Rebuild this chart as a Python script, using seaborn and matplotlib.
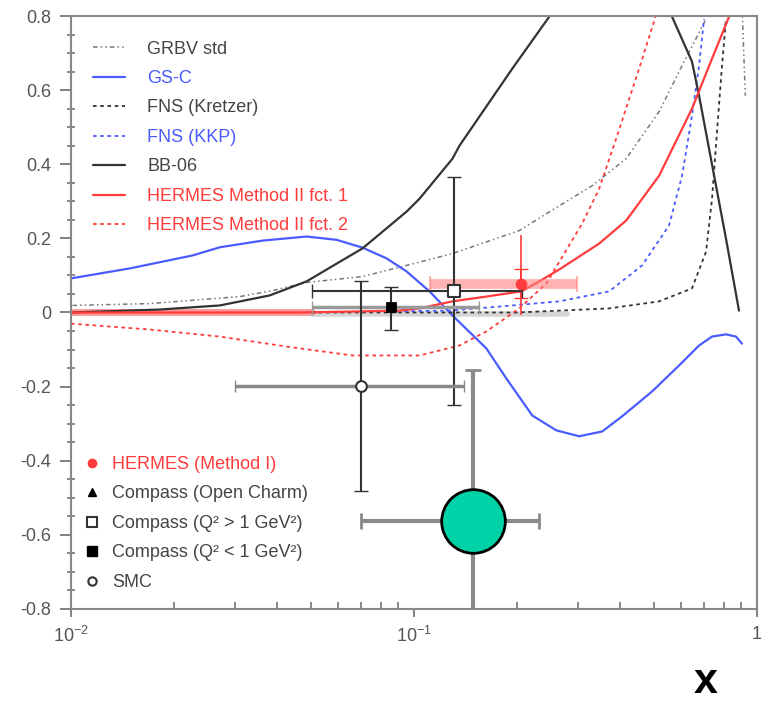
import numpy as np
import pandas as pd
import matplotlib
matplotlib.use("Agg")
import matplotlib.pyplot as plt
import seaborn as sns
from matplotlib.lines import Line2D
from matplotlib.ticker import FixedLocator, NullFormatter, LogLocator, FixedFormatter

sns.set_style("ticks")
plt.rcParams['font.family'] = ['Liberation Sans', 'DejaVu Sans']
plt.rcParams['mathtext.fontset'] = 'custom'
plt.rcParams['mathtext.rm'] = 'Liberation Sans'

# ---------------- curves ----------------
grbv_x = [0.0101, 0.0170, 0.0311, 0.0387, 0.0486, 0.0708, 0.0951, 0.1295, 0.2028, 0.2652, 0.3308, 0.4155, 0.5184, 0.6047, 0.7104]
grbv_y = [0.019, 0.024, 0.043, 0.059, 0.081, 0.097, 0.127, 0.159, 0.221, 0.288, 0.342, 0.415, 0.542, 0.666, 0.792]
grbv2_x = [0.905, 0.915, 0.925]
grbv2_y = [0.82, 0.70, 0.585]

gsc_x = [0.0100, 0.01485, 0.02265, 0.02716, 0.03622, 0.04864, 0.0595, 0.0708, 0.0832, 0.0951, 0.1110,
         0.1295, 0.1626, 0.1859, 0.2213, 0.2600, 0.3032, 0.3538, 0.4046, 0.4946, 0.5926, 0.6779,
         0.7396, 0.8123, 0.8685, 0.9044]
gsc_y = [0.092, 0.119, 0.154, 0.176, 0.194, 0.205, 0.196, 0.175, 0.146, 0.111, 0.057,
         -0.008, -0.097, -0.178, -0.278, -0.318, -0.334, -0.321, -0.280, -0.213, -0.143, -0.089,
         -0.065, -0.059, -0.065, -0.084]

fnsk_x = [0.0503, 0.1, 0.2, 0.3707, 0.5184, 0.6465, 0.7104, 0.7396, 0.7647, 0.7908, 0.8123]
fnsk_y = [0.0, 0.0, 0.0, 0.011, 0.030, 0.065, 0.164, 0.307, 0.488, 0.666, 0.792]

kkp_x = [0.0849, 0.1269, 0.1774, 0.2652, 0.3707, 0.4625, 0.5543, 0.6047, 0.6465, 0.6779, 0.7010]
kkp_y = [0.003, 0.005, 0.016, 0.030, 0.057, 0.127, 0.235, 0.369, 0.531, 0.666, 0.792]

bb06a_x = [0.0100, 0.01816, 0.02716, 0.03796, 0.04864, 0.0708, 0.0951, 0.1038, 0.1295, 0.1357, 0.1935, 0.2479]
bb06a_y = [0.0, 0.008, 0.019, 0.046, 0.084, 0.173, 0.272, 0.307, 0.415, 0.450, 0.658, 0.798]
bb06b_x = [0.5655, 0.6465, 0.6779, 0.7596, 0.8123, 0.8863]
bb06b_y = [0.798, 0.677, 0.585, 0.342, 0.199, 0.005]

h1_x = [0.0100, 0.0464, 0.0907, 0.1038, 0.1295, 0.1626, 0.2056, 0.2319, 0.2652, 0.3467, 0.4155, 0.5184, 0.6465, 0.7396, 0.829]
h1_y = [0.0, 0.0, 0.005, 0.011, 0.030, 0.043, 0.057, 0.084, 0.116, 0.186, 0.248, 0.369, 0.550, 0.685, 0.798]

h2_x = [0.0100, 0.01698, 0.02716, 0.04254, 0.0662, 0.1038, 0.1357, 0.1626, 0.2028, 0.2430, 0.2742, 0.3093, 0.3467, 0.3886, 0.4533, 0.5081]
h2_y = [-0.030, -0.046, -0.065, -0.092, -0.116, -0.116, -0.089, -0.051, 0.011, 0.078, 0.159, 0.240, 0.334, 0.469, 0.658, 0.803]

band_red_x = [0.0100, 0.0503]
band_red_y = [0.0, 0.0]
band_gray_x = [0.0503, 0.28]
band_gray_y = [-0.003, -0.003]

# ---------------- data points ----------------
hermes_x, hermes_y = 0.2056, 0.078
hermes_xlo, hermes_xhi = 0.111, 0.299
hermes_stat = 0.04
hermes_sys_lo, hermes_sys_hi = -0.008, 0.208

cq_hi_x, cq_hi_y = 0.131, 0.059
cq_hi_xlo, cq_hi_xhi = 0.0504, 0.206
cq_hi_ylo, cq_hi_yhi = -0.25, 0.366

cq_lo_x, cq_lo_y = 0.0855, 0.016
cq_lo_xlo, cq_lo_xhi = 0.0504, 0.155
cq_lo_ylo, cq_lo_yhi = -0.046, 0.07

smc_x, smc_y = 0.0703, -0.197
smc_xlo, smc_xhi = 0.030, 0.140
smc_ylo, smc_yhi = -0.482, 0.086

new_x, new_y = 0.149, -0.563
new_xlo, new_xhi = 0.0703, 0.232
new_ylo, new_yhi = -0.85, -0.156

xtick_vals = [0.01, 0.1, 1]
xtick_labels = ['10$^{-2}$', '10$^{-1}$', '1']
ytick_vals = [-0.8, -0.6, -0.4, -0.2, 0, 0.2, 0.4, 0.6, 0.8]
ytick_labels = ['-0.8', '-0.6', '-0.4', '-0.2', '0', '0.2', '0.4', '0.6', '0.8']

legend1_labels = ['GRBV std', 'GS-C', 'FNS (Kretzer)', 'FNS (KKP)', 'BB-06',
                  'HERMES Method II fct. 1', 'HERMES Method II fct. 2']
legend2_labels = ['HERMES (Method I)', 'Compass (Open Charm)',
                  'Compass (Q² > 1 GeV²)', 'Compass (Q² < 1 GeV²)', 'SMC']

BLUE = '#4a5cff'
RED = '#ff3b3b'
DARK = '#333333'
GRAY = '#777777'
TXT = '#444444'

fig = plt.figure(figsize=(7.64, 7.05), dpi=100)
ax = fig.add_axes([0.0929, 0.1362, 0.8979, 0.8411])


def curve(x, y, color, lw=1.5, ls='-', alpha=1.0, z=2):
    df = pd.DataFrame({'x': x, 'y': y})
    sns.lineplot(data=df, x='x', y='y', ax=ax, sort=False, estimator=None,
                 color=color, linewidth=lw, linestyle=ls, alpha=alpha,
                 legend=False, zorder=z)


ax.set_xscale('log')

# bands at zero
curve(band_red_x, band_red_y, '#ff7070', lw=5, alpha=0.7, z=1)
curve(band_gray_x, band_gray_y, '#bbbbbb', lw=4, alpha=0.6, z=1)

curve(grbv_x, grbv_y, GRAY, lw=1.1, ls=(0, (3, 2, 1, 2, 1, 2)))
curve(grbv2_x, grbv2_y, GRAY, lw=1.1, ls=(0, (3, 2, 1, 2, 1, 2)))
curve(gsc_x, gsc_y, BLUE, lw=1.6)
curve(fnsk_x, fnsk_y, DARK, lw=1.3, ls=(0, (2, 2)))
curve(kkp_x, kkp_y, BLUE, lw=1.3, ls=(0, (2, 2)))
curve(bb06a_x, bb06a_y, DARK, lw=1.6)
curve(bb06b_x, bb06b_y, DARK, lw=1.6)
curve(h1_x, h1_y, RED, lw=1.6)
curve(h2_x, h2_y, RED, lw=1.3, ls=(0, (2, 2)))

# ---------------- error bars ----------------
ax.errorbar([hermes_x], [hermes_y],
            xerr=[[hermes_x - hermes_xlo], [hermes_xhi - hermes_x]],
            fmt='none', ecolor='#ff8080', elinewidth=7, capsize=6, capthick=1.5, alpha=0.6, zorder=3)
ax.errorbar([hermes_x], [hermes_y],
            yerr=[[hermes_y - hermes_sys_lo], [hermes_sys_hi - hermes_y]],
            fmt='none', ecolor=RED, elinewidth=1.2, capsize=0, zorder=4)
ax.errorbar([hermes_x], [hermes_y], yerr=hermes_stat,
            fmt='none', ecolor=RED, elinewidth=1.5, capsize=5, zorder=4)

ax.errorbar([cq_hi_x], [cq_hi_y],
            xerr=[[cq_hi_x - cq_hi_xlo], [cq_hi_xhi - cq_hi_x]],
            yerr=[[cq_hi_y - cq_hi_ylo], [cq_hi_yhi - cq_hi_y]],
            fmt='none', ecolor=DARK, elinewidth=1.5, capsize=5, zorder=4)
ax.errorbar([cq_lo_x], [cq_lo_y],
            xerr=[[cq_lo_x - cq_lo_xlo], [cq_lo_xhi - cq_lo_x]],
            fmt='none', ecolor='#999999', elinewidth=2.5, capsize=4, zorder=4)
ax.errorbar([cq_lo_x], [cq_lo_y],
            yerr=[[cq_lo_y - cq_lo_ylo], [cq_lo_yhi - cq_lo_y]],
            fmt='none', ecolor=DARK, elinewidth=1.5, capsize=5, zorder=4)
ax.errorbar([smc_x], [smc_y],
            xerr=[[smc_x - smc_xlo], [smc_xhi - smc_x]],
            fmt='none', ecolor='#888888', elinewidth=2.5, capsize=4, zorder=4)
ax.errorbar([smc_x], [smc_y],
            yerr=[[smc_y - smc_ylo], [smc_yhi - smc_y]],
            fmt='none', ecolor=DARK, elinewidth=1.5, capsize=5, zorder=4)
ax.errorbar([new_x], [new_y],
            xerr=[[new_x - new_xlo], [new_xhi - new_x]],
            yerr=[[new_y - new_ylo], [new_yhi - new_y]],
            fmt='none', ecolor='#8a8a8a', elinewidth=3, capsize=6, capthick=2, zorder=5)

# ---------------- markers ----------------
pts = pd.DataFrame({'x': [hermes_x], 'y': [hermes_y]})
sns.scatterplot(data=pts, x='x', y='y', ax=ax, color=RED, s=60, edgecolor=RED, zorder=6, legend=False)
pts = pd.DataFrame({'x': [cq_hi_x], 'y': [cq_hi_y]})
sns.scatterplot(data=pts, x='x', y='y', ax=ax, marker='s', color='white', s=70, edgecolor=DARK, linewidth=1.5, zorder=6, legend=False)
pts = pd.DataFrame({'x': [cq_lo_x], 'y': [cq_lo_y]})
sns.scatterplot(data=pts, x='x', y='y', ax=ax, marker='s', color='black', s=50, edgecolor='black', zorder=6, legend=False)
pts = pd.DataFrame({'x': [smc_x], 'y': [smc_y]})
sns.scatterplot(data=pts, x='x', y='y', ax=ax, marker='o', color='white', s=60, edgecolor=DARK, linewidth=1.5, zorder=6, legend=False)
pts = pd.DataFrame({'x': [new_x], 'y': [new_y]})
sns.scatterplot(data=pts, x='x', y='y', ax=ax, marker='o', color='#00d2a8', s=2100, edgecolor='black', linewidth=2, zorder=7, legend=False)

# ---------------- axes ----------------
ax.set_xlim(0.01, 1)
ax.set_ylim(-0.8, 0.8)
ax.xaxis.set_major_locator(FixedLocator(xtick_vals))
ax.xaxis.set_major_formatter(FixedFormatter(xtick_labels))
ax.xaxis.set_minor_locator(LogLocator(base=10, subs=np.arange(2, 10)))
ax.xaxis.set_minor_formatter(NullFormatter())
ax.yaxis.set_major_locator(FixedLocator(ytick_vals))
ax.yaxis.set_major_formatter(FixedFormatter(ytick_labels))
ax.yaxis.set_minor_locator(FixedLocator(np.arange(-0.8, 0.81, 0.05)))
ax.tick_params(axis='both', which='major', labelsize=13, labelcolor='#555555', color=GRAY, width=1.3)
ax.tick_params(axis='x', which='major', direction='out', length=6, pad=6)
ax.tick_params(axis='y', which='major', direction='out', length=8, pad=6)
ax.tick_params(axis='x', which='minor', direction='in', length=5, color=GRAY, width=1.2)
ax.tick_params(axis='y', which='minor', direction='inout', length=6, color=GRAY, width=1.2)
for sp in ax.spines.values():
    sp.set_visible(True)
    sp.set_color('#888888')
    sp.set_linewidth(1.5)
ax.set_xlabel('')
ax.set_ylabel('')

# ---------------- legends ----------------
h1 = [Line2D([], [], color=GRAY, lw=1.1, ls=(0, (3, 2, 1, 2, 1, 2))),
      Line2D([], [], color=BLUE, lw=1.6),
      Line2D([], [], color=DARK, lw=1.3, ls=(0, (2, 2))),
      Line2D([], [], color=BLUE, lw=1.3, ls=(0, (2, 2))),
      Line2D([], [], color=DARK, lw=1.6),
      Line2D([], [], color=RED, lw=1.6),
      Line2D([], [], color=RED, lw=1.3, ls=(0, (2, 2)))]
c1 = [TXT, BLUE, TXT, BLUE, TXT, RED, RED]
leg1 = ax.legend(h1, legend1_labels, loc='upper left', bbox_to_anchor=(0.032, 0.9586),
                 frameon=False, fontsize=13, handlelength=1.8, handletextpad=1.2,
                 labelspacing=0.69, borderaxespad=0, borderpad=0)
for t, c in zip(leg1.get_texts(), c1):
    t.set_color(c)
ax.add_artist(leg1)

h2 = [Line2D([], [], ls='none', marker='o', color=RED, ms=6),
      Line2D([], [], ls='none', marker='^', color='black', ms=6),
      Line2D([], [], ls='none', marker='s', mfc='white', mec=DARK, mew=1.5, ms=7),
      Line2D([], [], ls='none', marker='s', color='black', ms=7),
      Line2D([], [], ls='none', marker='o', mfc='white', mec=DARK, mew=1.5, ms=6)]
c2 = [RED, TXT, TXT, TXT, TXT]
leg2 = ax.legend(h2, legend2_labels, loc='upper left', bbox_to_anchor=(0.02, 0.258),
                 frameon=False, fontsize=13, handlelength=0.8, handletextpad=0.7,
                 labelspacing=0.69, borderaxespad=0, borderpad=0)
for t, c in zip(leg2.get_texts(), c2):
    t.set_color(c)

fig.text(0.923, 0.004, 'x', fontsize=31, fontweight='bold', ha='center', va='bottom', color='black')

fig.savefig('out.png', dpi=100)
